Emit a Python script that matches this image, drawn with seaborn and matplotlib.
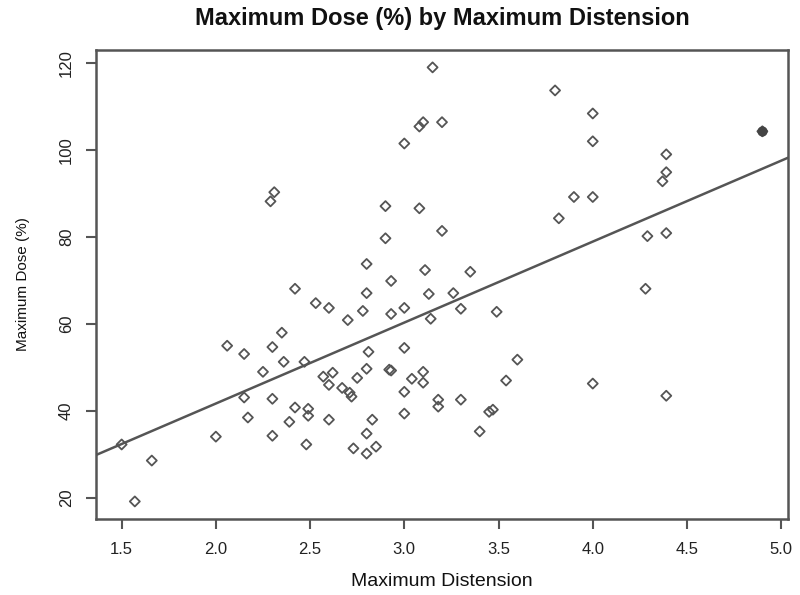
import pandas as pd
import matplotlib.pyplot as plt
import seaborn as sns

# values
max_distension = [1.50, 1.57, 1.66, 2.00, 2.06, 2.15, 2.15, 2.17, 2.25, 2.30,
                  2.30, 2.30, 2.29, 2.31, 2.35, 2.36, 2.42, 2.39, 2.42, 2.47,
                  2.48, 2.49, 2.49, 2.53, 2.57, 2.60, 2.60, 2.62, 2.60, 2.67,
                  2.70, 2.71, 2.72, 2.73, 2.75, 2.78, 2.80, 2.80, 2.80, 2.81,
                  2.80, 2.80, 2.83, 2.85, 2.90, 2.90, 2.93, 2.93, 2.92, 2.93,
                  3.00, 3.00, 3.00, 3.00, 3.00, 3.04, 3.08, 3.10, 3.08, 3.11,
                  3.10, 3.10, 3.13, 3.14, 3.15, 3.20, 3.20, 3.18, 3.18, 3.26,
                  3.30, 3.30, 3.35, 3.40, 3.45, 3.47, 3.49, 3.54, 3.60, 3.80,
                  3.82, 3.90, 4.00, 4.00, 4.00, 4.00, 4.28, 4.29, 4.39, 4.39,
                  4.37, 4.39, 4.39, 4.90]
max_dose = [32.3, 19.2, 28.6, 34.1, 55.0, 53.1, 43.1, 38.5, 49.0, 54.7,
            42.8, 34.3, 88.2, 90.3, 58.0, 51.3, 68.1, 37.5, 40.8, 51.3,
            32.3, 40.5, 38.9, 64.8, 47.9, 63.7, 46.0, 48.8, 38.0, 45.3,
            60.9, 44.2, 43.3, 31.4, 47.6, 63.0, 67.1, 73.8, 49.7, 53.6,
            34.8, 30.2, 38.0, 31.8, 79.7, 87.1, 69.9, 62.3, 49.5, 49.3,
            101.5, 63.7, 54.5, 44.4, 39.4, 47.4, 105.4, 106.4, 86.6, 72.4,
            49.0, 46.5, 66.9, 61.2, 119.0, 106.4, 81.4, 42.6, 41.0, 67.1,
            63.5, 42.6, 72.0, 35.3, 39.8, 40.3, 62.8, 47.0, 51.8, 113.7,
            84.3, 89.2, 108.4, 102.0, 89.2, 46.3, 68.1, 80.2, 99.0, 94.9,
            92.8, 80.9, 43.5, 104.3]

# the dark marker at the right looks like several overlapping points
overlap_x = [4.90]
overlap_y = [104.3]

df = pd.DataFrame({'Maximum Distension': max_distension, 'Maximum Dose (%)': max_dose})

sns.set_style('white')
plt.rcParams['font.family'] = ['Liberation Sans', 'DejaVu Sans']
plt.rcParams['text.color'] = '#111111'
plt.rcParams['axes.labelcolor'] = '#111111'

fig = plt.figure(figsize=(8, 5.95), dpi=100)
ax = fig.add_axes([0.12, 0.128, 0.865, 0.788])

gray = '#555555'
sns.scatterplot(data=df, x='Maximum Distension', y='Maximum Dose (%)', ax=ax,
                marker='D', s=26, facecolor='none', edgecolor=gray, linewidth=1.3)
ax.scatter(overlap_x, overlap_y, marker='o', s=40, color='#444444', zorder=3)

ax.set_xlim(1.364, 5.036)
ax.set_ylim(15.2, 123.0)
sns.regplot(data=df, x='Maximum Distension', y='Maximum Dose (%)', ax=ax,
            scatter=False, ci=None, truncate=False,
            line_kws={'color': gray, 'linewidth': 1.8})
ax.set_xlim(1.364, 5.036)
ax.set_ylim(15.2, 123.0)

ax.set_xticks([1.5, 2.0, 2.5, 3.0, 3.5, 4.0, 4.5, 5.0])
ax.set_yticks([20, 40, 60, 80, 100, 120])
ax.tick_params(axis='both', direction='out', length=7, width=1.5, color=gray,
               labelsize=12, labelcolor='#222222', bottom=True, left=True)
ax.tick_params(axis='x', pad=10)
ax.tick_params(axis='y', pad=9)
for lab in ax.get_yticklabels():
    lab.set_rotation(90)
    lab.set_va('center')

for sp in ax.spines.values():
    sp.set_color(gray)
    sp.set_linewidth(1.8)

ax.set_xlabel('Maximum Distension', fontsize=14, labelpad=11)
ax.set_ylabel('Maximum Dose (%)', fontsize=11, labelpad=21)
ax.set_title('Maximum Dose (%) by Maximum Distension', fontsize=17,
             fontweight='bold', pad=18)

plt.savefig('out.png', dpi=100)
